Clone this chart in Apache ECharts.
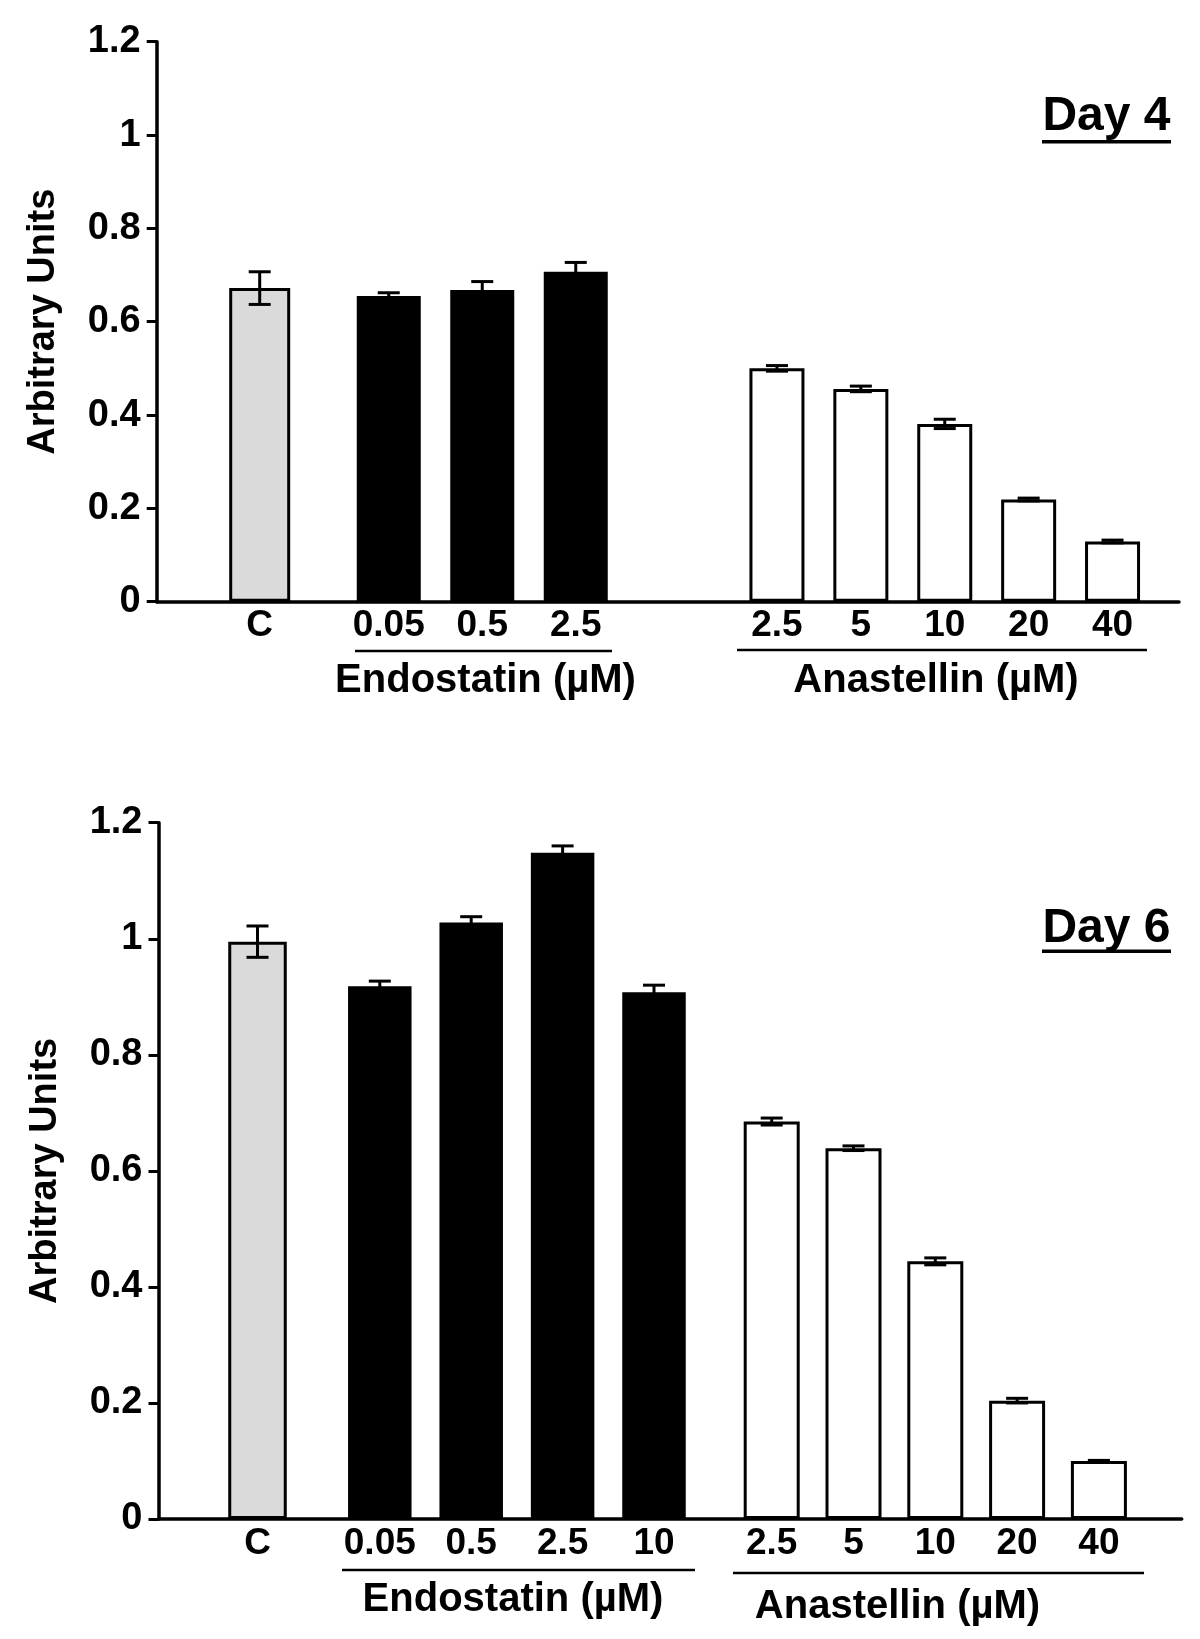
<!DOCTYPE html>
<html>
<head>
<meta charset="utf-8">
<script src="https://cdn.jsdelivr.net/npm/echarts@6/dist/echarts.min.js"></script>
<style>
  html, body { margin: 0; padding: 0; background: #fff; }
  #chart { width: 1200px; height: 1639px; }
</style>
</head>
<body>
<div id="chart"></div>
<script>
// ---------- DATA ----------
const controlLabels = ['C'];
const day4EndostatinLabels = ['0.05', '0.5', '2.5'];
const day6EndostatinLabels = ['0.05', '0.5', '2.5', '10'];
const anastellinLabels = ['2.5', '5', '10', '20', '40'];

const day4Control = [0.672];
const day4ControlSem = [0.035];
const day4Endostatin = [0.655, 0.668, 0.707];
const day4EndostatinSem = [0.007, 0.018, 0.020];
const day4Anastellin = [0.500, 0.456, 0.381, 0.219, 0.129];
const day4AnastellinSem = [0.006, 0.006, 0.010, 0.003, 0.003];

const day6Control = [0.995];
const day6ControlSem = [0.027];
const day6Endostatin = [0.918, 1.028, 1.148, 0.908];
const day6EndostatinSem = [0.009, 0.010, 0.012, 0.012];
const day6Anastellin = [0.685, 0.639, 0.444, 0.204, 0.100];
const day6AnastellinSem = [0.006, 0.004, 0.006, 0.004, 0.001];

const yTicks = [0, 0.2, 0.4, 0.6, 0.8, 1, 1.2];
const yAxisTitle = 'Arbitrary Units';
const groupTitles = ['Endostatin (\u00b5M)', 'Anastellin (\u00b5M)'];
const panelTitles = ['Day 4', 'Day 6'];

// ---------- LAYOUT (pixels) ----------
const FONT = '"Liberation Sans", Arial, Helvetica, sans-serif';
const panelLayout = [
  { top: 41.7, height: 560, axisLeft: 156.7, axisRight: 1179,
    groups: [
      { left: 214.7, width: 90, barWidth: 61 },
      { left: 342, width: 280.5, barWidth: 64 },
      { left: 735, width: 419.5, barWidth: 55 }
    ] },
  { top: 822.7, height: 696.3, axisLeft: 158.5, axisRight: 1181.7,
    groups: [
      { left: 212, width: 91, barWidth: 58.5 },
      { left: 334.1, width: 365.6, barWidth: 63.5 },
      { left: 730.8, width: 409, barWidth: 56 }
    ] }
];
const groupStyles = [
  { name: 'Control', color: '#dadada' },
  { name: 'Endostatin', color: '#000' },
  { name: 'Anastellin', color: '#fff' }
];

// ---------- CHART ----------
const chart = echarts.init(document.getElementById('chart'), null, { renderer: 'canvas' });

function errRender(params, api) {
  const x = api.value(0), m = api.value(1), s = api.value(2);
  const top = api.coord([x, m + s]);
  const bot = api.coord([x, m - s]);
  const hw = 11;
  const st = { stroke: '#000', lineWidth: 3 };
  return {
    type: 'group',
    children: [
      { type: 'line', shape: { x1: top[0], y1: top[1], x2: bot[0], y2: bot[1] }, style: st },
      { type: 'line', shape: { x1: top[0] - hw, y1: top[1], x2: top[0] + hw, y2: top[1] }, style: st },
      { type: 'line', shape: { x1: bot[0] - hw, y1: bot[1], x2: bot[0] + hw, y2: bot[1] }, style: st }
    ]
  };
}

const grids = [], xAxes = [], yAxes = [], series = [];

function yRange(extra) {
  return Object.assign({
    type: 'value', min: yTicks[0], max: yTicks[yTicks.length - 1], interval: yTicks[1] - yTicks[0]
  }, extra);
}

function addPanel(L, groupsData) {
  // main frame grid with the visible axes
  const gMain = grids.length;
  grids.push({ left: L.axisLeft, top: L.top, width: L.axisRight - L.axisLeft, height: L.height });
  xAxes.push({
    type: 'value', gridIndex: gMain, min: 0, max: 1,
    axisLine: { show: true, onZero: false, lineStyle: { color: '#000', width: 3.5 } },
    axisTick: { show: false }, axisLabel: { show: false }, splitLine: { show: false }
  });
  yAxes.push(yRange({
    gridIndex: gMain,
    name: yAxisTitle, nameLocation: 'middle', nameGap: 94,
    nameTextStyle: { color: '#000', fontSize: 38, fontWeight: 'bold', fontFamily: FONT },
    axisLine: { show: true, lineStyle: { color: '#000', width: 3.5 } },
    axisTick: { show: true, length: 10, lineStyle: { color: '#000', width: 3 } },
    axisLabel: { margin: 16, color: '#000', fontSize: 38, fontWeight: 'bold', fontFamily: FONT },
    splitLine: { show: false }
  }));
  // one grid per treatment group, sharing the same value scale
  groupsData.forEach((gd, k) => {
    const G = L.groups[k];
    const gi = grids.length;
    grids.push({ left: G.left, top: L.top, width: G.width, height: L.height });
    const xi = xAxes.length, yi = yAxes.length;
    xAxes.push({
      type: 'category', gridIndex: gi, data: gd.labels,
      axisLine: { show: false }, axisTick: { show: false }, splitLine: { show: false },
      axisLabel: { interval: 0, margin: 6, color: '#000', fontSize: 37, fontWeight: 'bold', fontFamily: FONT }
    });
    yAxes.push(yRange({ gridIndex: gi, show: false, splitLine: { show: false } }));
    series.push({
      type: 'bar', name: groupStyles[k].name, xAxisIndex: xi, yAxisIndex: yi,
      data: gd.values, barWidth: G.barWidth, silent: true,
      itemStyle: { color: groupStyles[k].color, borderColor: '#000', borderWidth: 3 }
    });
    series.push({
      type: 'custom', xAxisIndex: xi, yAxisIndex: yi, renderItem: errRender, z: 5, silent: true,
      data: gd.values.map((v, i) => [i, v, gd.sems[i]]), encode: { x: 0, y: 1 }
    });
  });
}

addPanel(panelLayout[0], [
  { labels: controlLabels, values: day4Control, sems: day4ControlSem },
  { labels: day4EndostatinLabels, values: day4Endostatin, sems: day4EndostatinSem },
  { labels: anastellinLabels, values: day4Anastellin, sems: day4AnastellinSem }
]);
addPanel(panelLayout[1], [
  { labels: controlLabels, values: day6Control, sems: day6ControlSem },
  { labels: day6EndostatinLabels, values: day6Endostatin, sems: day6EndostatinSem },
  { labels: anastellinLabels, values: day6Anastellin, sems: day6AnastellinSem }
]);

function txt(x, y, s, size) {
  return {
    type: 'text', x: x, y: y, silent: true,
    style: { text: s, fill: '#000', font: 'bold ' + size + 'px ' + FONT, align: 'center', verticalAlign: 'middle' }
  };
}
function hline(x1, x2, y, w) {
  return { type: 'line', silent: true, shape: { x1: x1, y1: y, x2: x2, y2: y }, style: { stroke: '#000', lineWidth: w } };
}

chart.setOption({
  backgroundColor: '#fff',
  animation: false,
  grid: grids,
  xAxis: xAxes,
  yAxis: yAxes,
  series: series,
  graphic: [
    hline(355, 612, 651, 2.5),
    txt(485.5, 681, groupTitles[0], 40),
    hline(737, 1147, 650, 2.5),
    txt(936, 681, groupTitles[1], 40),
    txt(1106.5, 117, panelTitles[0], 48),
    hline(1042, 1171, 141.7, 3.5),
    hline(342, 695, 1570, 2.5),
    txt(513, 1600, groupTitles[0], 40),
    hline(733, 1144, 1573, 2.5),
    txt(897.5, 1607, groupTitles[1], 40),
    txt(1106.5, 928.5, panelTitles[1], 48),
    hline(1042, 1171, 951.3, 3.5)
  ]
});
</script>
</body>
</html>
